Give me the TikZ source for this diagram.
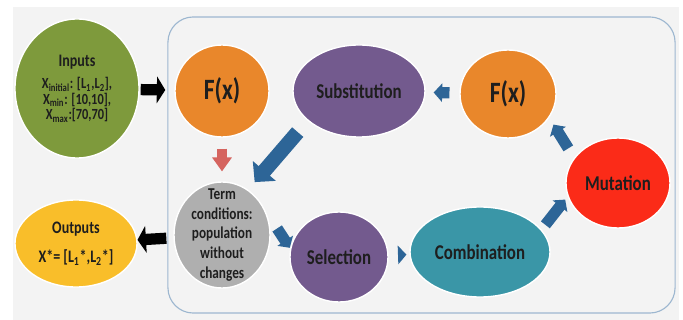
\documentclass[tikz,border=0pt]{standalone}
\usepackage{fontspec}
\usepackage{xcolor}
\usepackage{tikz}
\usetikzlibrary{shapes.geometric,arrows.meta}

\newfontfamily\lbl[FakeStretch=0.8]{Carlito}

\definecolor{bggray}{HTML}{F3F3F3}
\definecolor{boxline}{HTML}{9DB7D0}
\definecolor{txt}{HTML}{1E1E1E}
\definecolor{ingreen}{HTML}{7E9A3C}
\definecolor{outyellow}{HTML}{F9BE2A}
\definecolor{fxorange}{HTML}{E9872B}
\definecolor{purp}{HTML}{735A8E}
\definecolor{termgray}{HTML}{AFAFAF}
\definecolor{combteal}{HTML}{3A96A7}
\definecolor{mutred}{HTML}{FB2B18}
\definecolor{arrblue}{HTML}{2D6597}
\definecolor{arrred}{HTML}{D5645F}

\tikzset{
  bub/.style={ellipse, draw=white, line width=1pt, inner sep=0pt, text=txt,
    font=\lbl\bfseries\fontsize{15}{17}\selectfont},
  blkarr/.style={draw=black, line width=8pt, -{Triangle[length=6pt,width=19pt]}},
  bluarr/.style={draw=arrblue, line width=8pt, -{Triangle[length=6pt,width=13pt]}},
  bigarr/.style={draw=arrblue, line width=10.5pt, -{Triangle[length=10.5pt,width=21pt]}},
  redarr/.style={draw=arrred, line width=7.5pt, -{Triangle[length=10pt,width=13.5pt]}}
}

\begin{document}
\begin{tikzpicture}[x=0.025cm,y=-0.025cm]

\useasboundingbox (0,0) rectangle (683,320);
\fill[bggray] (13,7) rectangle (679,320);

\node[draw=boxline, line width=0.8pt, rounded corners=18pt,
  minimum width=12.675cm, minimum height=7.4cm] (loop) at (421.5,165) {};

%%% outside the loop
\node[bub, fill=ingreen, minimum width=3.1cm, minimum height=3.475cm, align=center,
  font=\lbl\bfseries\fontsize{11}{11}\selectfont] (inp) at (77,88.5)
  {\fontsize{12.5}{14}\selectfont Inputs\\[5pt]
   X\textsubscript{initial}: [L\textsubscript{1},L\textsubscript{2}],\\
   X\textsubscript{min}: [10,10],\\
   X\textsubscript{max}:[70,70]};

\node[bub, fill=outyellow, minimum width=3.05cm, minimum height=2.175cm, align=center,
  font=\lbl\bfseries\fontsize{12.5}{14}\selectfont] (outp) at (76,243.5)
  {Outputs\\[7pt]
   X*= [L\textsubscript{1}*,L\textsubscript{2}*]};

%%% the loop
\node[bub, fill=fxorange, minimum width=2.35cm, minimum height=2.3cm,
  font=\lbl\bfseries\fontsize{21}{24}\selectfont] (fx1) at (222,91) {F(x)};
\node[bub, fill=purp, minimum width=3.3cm, minimum height=2.3cm] (subst) at (359,91) {Substitution};
\node[bub, fill=fxorange, minimum width=2.4cm, minimum height=2.2cm,
  font=\lbl\bfseries\fontsize{21}{24}\selectfont] (fx2) at (508,94) {F(x)};
\node[bub, fill=mutred, minimum width=2.6cm, minimum height=2.25cm] (mut) at (618,183) {Mutation};
\node[bub, fill=combteal, minimum width=3.5cm, minimum height=2.25cm] (comb) at (480,252) {Combination};
\node[bub, fill=purp, minimum width=2.45cm, minimum height=2.25cm] (sel) at (339,257) {Selection};
\node[bub, fill=termgray, minimum width=2.4cm, minimum height=2.65cm] (term) at (222,235) {};
\node[text=txt, align=center, inner sep=0pt,
  font=\lbl\bfseries\fontsize{11.8}{14}\selectfont] (termtxt) at (term)
  {Term\\conditions:\\population\\without\\changes};

%%% arrows
\draw[blkarr, shorten <=0.7pt, shorten >=6.4pt] (inp) -- (fx1);
\draw[blkarr, shorten <=5pt] (term) -- (outp);
\draw[redarr, shorten <=7.8pt, shorten >=7pt] (fx1) -- (term);
\draw[bigarr, shorten <=10.7pt, shorten >=7.1pt] (subst.210) -- (term.60);
\draw[bluarr, shorten <=15.6pt, shorten >=0.5pt] (term.30) -- (sel.170);
\draw[bluarr, shorten <=7pt, shorten >=2.1pt] (sel) -- (comb);
\draw[bluarr, shorten <=4.3pt, shorten >=2.8pt] (comb.20) -- (mut.195);
\draw[bluarr, shorten <=7.8pt, shorten >=5.7pt] (mut.150) -- (fx2.-30);
\draw[bluarr, shorten <=7pt, shorten >=5.7pt] (fx2) -- (subst);

\end{tikzpicture}
\end{document}
